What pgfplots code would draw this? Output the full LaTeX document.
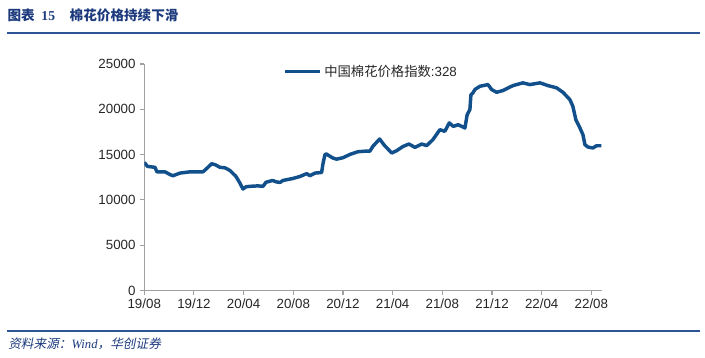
\documentclass[border=0pt]{standalone}
\usepackage{pgfplots}
\pgfplotsset{compat=1.18}
\usepackage{fontspec}
\setmainfont{Liberation Sans}
\newfontfamily\cjk{Noto Sans CJK SC}
\newfontfamily\cjkit{Noto Sans CJK SC}[FakeSlant=0.2]
\newfontfamily\serifit{Liberation Serif}
\definecolor{linec}{RGB}{18,80,140}
\definecolor{titlec}{RGB}{28,58,125}
\definecolor{rulec}{RGB}{45,85,150}
\definecolor{axisc}{RGB}{160,160,160}
\begin{document}
\begin{tikzpicture}
\path[use as bounding box] (0pt,0pt) rectangle (528.75pt,-267.75pt);
% title
\node[anchor=west, inner sep=0pt, text=titlec, font=\fontsize{10.2pt}{12pt}\selectfont] at (5.5pt,-11.5pt)
  {{\cjk\bfseries 图表}\hspace{5pt}{\serifit\bfseries 15}\hspace{11pt}{\cjk\bfseries 棉花价格持续下滑}};
\draw[rulec, line width=1.5pt] (5.25pt,-25.1pt) -- (525pt,-25.1pt);
% source
\draw[rulec, line width=1.5pt] (5.25pt,-248pt) -- (525pt,-248pt);
\node[anchor=west, inner sep=0pt, text=titlec, font=\fontsize{9.5pt}{11pt}\selectfont] at (6pt,-258pt)
  {{\cjkit 资料来源：}{\serifit\itshape Wind}{\cjkit ，华创证券}};
\begin{axis}[
  at={(108.2pt,-217.9pt)}, anchor=south west,
  scale only axis, width=343.05pt, height=169.9pt,
  xmin=0, xmax=36.83, ymin=0, ymax=25000,
  scaled ticks=false,
  axis lines*=left,
  axis line style={axisc, line width=0.8pt},
  tick style={axisc, line width=0.8pt},
  tick align=outside, major tick length=3pt,
  xtick={0,4,...,36},
  xticklabels={19/08,19/12,20/04,20/08,20/12,21/04,21/08,21/12,22/04,22/08},
  ytick={0,5000,10000,15000,20000,25000},
  yticklabels={0,5000,10000,15000,20000,25000},
  tick label style={font=\fontsize{10pt}{12pt}\selectfont, text=black!85},
  legend style={at={(0.303,0.966)}, anchor=west, draw=none, fill=none, inner sep=0pt,
    font=\fontsize{10pt}{12pt}\selectfont, text=black!85},
  legend cell align=left,
  legend image code/.code={\draw[linec, line width=2.6pt] (0pt,0pt) -- (26.25pt,0pt);},
]
\addplot[linec, line width=2.6pt, line join=round] coordinates {
(0,14.14e3) (0.14,13.9e3) (0.26,13.7e3) (0.86,13.6e3) (1.02,13.1e3) (1.67,13.1e3)
(2.07,12.8e3) (2.31,12.67e3) (2.87,12.96e3) (3.68,13.1e3) (4.73,13.1e3) (5.05,13.5e3)
(5.43,14.0e3) (5.77,13.85e3) (6.09,13.6e3) (6.49,13.55e3) (6.9,13.25e3) (7.38,12.6e3)
(7.7,11.86e3) (7.95,11.2e3) (8.19,11.45e3) (8.51,11.5e3) (9.15,11.55e3) (9.56,11.5e3)
(9.8,11.95e3) (10.34,12.15e3) (10.6,12.0e3) (10.93,11.93e3) (11.17,12.15e3) (11.97,12.37e3)
(12.54,12.59e3) (13.08,12.9e3) (13.34,12.67e3) (13.74,12.96e3) (14.28,13.03e3) (14.39,14.0e3)
(14.55,15.0e3) (14.65,15.07e3) (15.19,14.62e3) (15.49,14.5e3) (16.0,14.66e3) (16.56,15.02e3)
(17.2,15.32e3) (18.0,15.4e3) (18.16,15.36e3) (18.4,15.9e3) (18.95,16.72e3) (19.35,16.0e3)
(19.6,15.65e3) (19.92,15.18e3) (20.32,15.43e3) (20.83,15.9e3) (21.31,16.17e3) (21.79,15.8e3)
(22.33,16.17e3) (22.74,16.0e3) (23.24,16.65e3) (23.8,17.75e3) (24.2,17.57e3) (24.56,18.5e3)
(24.88,18.12e3) (25.28,18.3e3) (25.82,17.94e3) (26.0,19.41e3) (26.22,19.97e3) (26.3,21.6e3)
(26.46,21.8e3) (26.62,22.18e3) (27.02,22.54e3) (27.67,22.73e3) (27.97,22.18e3) (28.37,21.88e3)
(28.88,22.07e3) (29.69,22.62e3) (30.49,22.92e3) (31.05,22.73e3) (31.86,22.92e3) (32.5,22.62e3)
(33.2,22.37e3) (33.71,21.88e3) (34.27,21.07e3) (34.51,20.33e3) (34.75,18.86e3) (35.08,17.94e3)
(35.32,17.2e3) (35.48,16.1e3) (35.72,15.84e3) (36.12,15.73e3) (36.42,15.98e3) (36.8,15.98e3)
};
\addlegendentry{{\cjk 中国棉花价格指数}:328}
\end{axis}
\end{tikzpicture}
\end{document}
